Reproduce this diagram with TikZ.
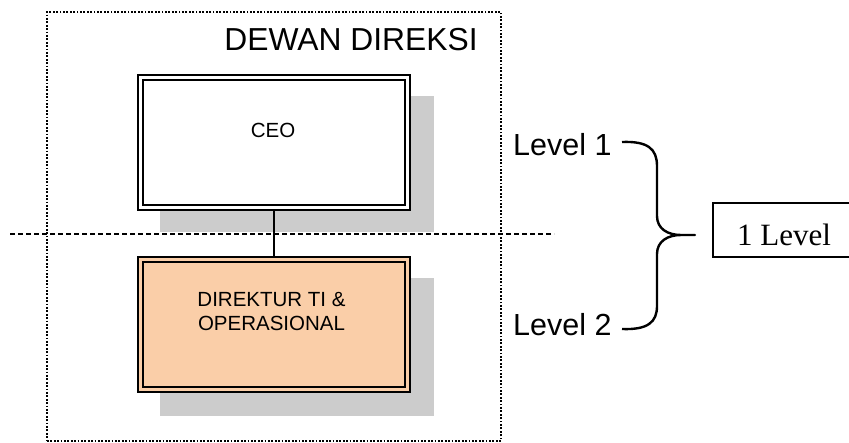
\documentclass[tikz,border=0pt]{standalone}
\usepackage{fontspec}
\setmainfont{Liberation Sans}
\newfontfamily\timesfont{Liberation Serif}
\usetikzlibrary{backgrounds,calc}
\definecolor{peach}{RGB}{250,206,168}
\definecolor{shadowgrey}{RGB}{204,204,204}
\tikzset{
  orgbox/.style={draw=black, line width=2pt, double distance=3pt,
    minimum width=267pt, minimum height=130pt, inner sep=0pt, outer sep=0pt,
    anchor=north west},
  boardframe/.style={draw=black, line width=1.8pt, dash pattern=on 1.8pt off 1.6pt,
    minimum width=454pt, minimum height=429pt, inner sep=0pt, outer sep=0pt,
    anchor=north west},
  levelline/.style={draw=black, line width=2.2pt, dash pattern=on 5pt off 3pt},
  shadowfill/.style={fill=shadowgrey},
  boxtext/.style={font=\fontsize{20.5}{23.5}\selectfont, inner sep=0pt},
  leveltext/.style={font=\fontsize{30.5}{34}\selectfont, inner sep=0pt, anchor=base west},
  bracepath/.style={draw=black, line width=2.4pt},
}
\begin{document}
\begin{tikzpicture}[x=1pt, y=-1pt]
  \useasboundingbox (0,0) rectangle (849,442);
  \clip (0,0) rectangle (849,442);

  % board of directors frame and title
  \node[boardframe] (board) at (47,12) {};
  \node[font=\fontsize{31.8}{36}\selectfont, inner sep=0pt, anchor=base] (boardtitle) at (351,50) {DEWAN DIREKSI};

  % the two position boxes
  \node[orgbox, fill=white, double=white] (ceo) at (140.5,77.5) {};
  \node[orgbox, fill=peach, double=peach] (dir) at (140.5,259.5) {};
  \node[boxtext, anchor=base] (ceotext) at (273,137) {CEO};
  \node[boxtext, anchor=base, align=center] (dirtext) at (271.5,330) {DIREKTUR TI \&\\OPERASIONAL};

  % shadows, level separator and reporting line behind the boxes
  \begin{scope}[on background layer]
    \fill[shadowfill] ($(ceo.north west)+(19.5,18.5)$) rectangle ($(ceo.south east)+(26.5,24.5)$);
    \fill[shadowfill] ($(dir.north west)+(19.5,18.5)$) rectangle ($(dir.south east)+(26.5,26.5)$);
    \coordinate (sepleft) at (10,234);
    \coordinate (sepright) at (554,234);
    \draw[levelline] (sepleft) -- (sepright);
    \draw[line width=1.5pt] (ceo.south) -- (dir.north);
  \end{scope}

  % level labels and the brace grouping them
  \node[leveltext] (level1) at (513,155) {Level 1};
  \node[leveltext] (level2) at (513,335) {Level 2};
  \coordinate (bracetop) at (622,142);
  \coordinate (bracetip) at (695,235);
  \coordinate (bracebot) at (622,329);
  \draw[bracepath, line join=round] (bracetop)
     .. controls (648,141) and (657,149) .. (657,166)
     -- (657,216)
     .. controls (657,229) and (668,235) .. (681,235)
     -- (bracetip) -- (681,235)
     .. controls (668,235) and (657,241) .. (657,254)
     -- (657,306)
     .. controls (657,322) and (648,330) .. (bracebot);

  % resulting level count
  \node[draw=black, line width=1.3pt, anchor=north west, minimum width=170pt,
        minimum height=54pt, inner sep=0pt, outer sep=0pt] (onelevel) at (713,203) {};
  \node[font=\timesfont\fontsize{31}{35}\selectfont, inner sep=0pt, anchor=base west]
        (onelevelcap) at (737,245) {1 Level};
\end{tikzpicture}
\end{document}
